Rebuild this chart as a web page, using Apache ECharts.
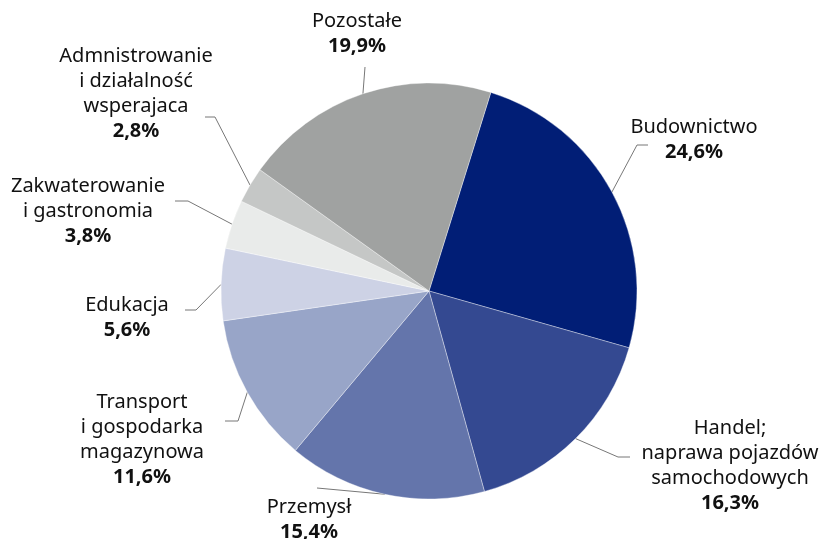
<!DOCTYPE html>
<html><head><meta charset="utf-8">
<script src="https://cdn.jsdelivr.net/npm/echarts@6/dist/echarts.min.js"></script>
<style>html,body{margin:0;padding:0;background:#fff}#c{width:821px;height:539px}</style>
</head><body><div id="c"></div>
<script>
const categories = ['Budownictwo','Handel;\nnaprawa pojazdów\nsamochodowych','Przemysł','Transport\ni gospodarka\nmagazynowa','Edukacja','Zakwaterowanie\ni gastronomia','Admnistrowanie\ni działalność\nwsperajaca','Pozostałe'];
const values = [24.6, 16.3, 15.4, 11.6, 5.6, 3.8, 2.8, 19.9];
const colors = ['#011e76','#344991','#6475ab','#98a5c8','#cdd2e5','#e9ebea','#c5c7c6','#a0a2a1'];

// label block centres and leader-line bend points (layout only)
const labelPos = [
  {x:694, y:140, bend:[[637,145],[648,145]]},
  {x:730, y:466, bend:[[618,457],[630,457]]},
  {x:309, y:520, bend:[[317,488]]},
  {x:142, y:440, bend:[[238,421],[225,421]]},
  {x:127, y:318, bend:[[196,310],[185,310]]},
  {x:88,  y:211, bend:[[188,201],[175,201]]},
  {x:136, y:94,  bend:[[215,117],[205,117]]},
  {x:357, y:34,  bend:[[365,67]]}
];

const fmt = v => v.toFixed(1).replace('.', ',') + '%';

const chart = echarts.init(document.getElementById('c'), null, {renderer:'canvas'});
chart.setOption({
  animation:false,
  series:[{
    type:'pie',
    center:[429,291],
    radius:208,
    startAngle:72.7,
    clockwise:true,
    data: categories.map((n,i)=>({name:n, value:values[i], itemStyle:{color:colors[i]}})),
    itemStyle:{borderColor:'rgba(255,255,255,0.6)', borderWidth:0.6},
    label:{
      show:true,
      position:'outside',
      formatter: p => p.name.split('\n').map(s=>'{n|'+s+'}').join('\n') + '\n{v|' + fmt(p.value) + '}',
      align:'center',
      rich:{
        n:{fontFamily:'Noto Sans', fontSize:20, color:'#111', lineHeight:25, align:'center'},
        v:{fontFamily:'Noto Sans', fontSize:20, fontWeight:'bold', color:'#111', lineHeight:25, align:'center'}
      }
    },
    labelLine:{show:true, lineStyle:{color:'#777', width:1}},
    labelLayout: function(params){
      const lp = labelPos[params.dataIndex];
      const start = params.labelLinePoints ? params.labelLinePoints[0] : null;
      const pts = start ? [start].concat(lp.bend) : null;
      const o = {x:lp.x, y:lp.y, align:'center', verticalAlign:'middle', hideOverlap:false, moveOverlap:null};
      if (pts) o.labelLinePoints = pts;
      return o;
    }
  }]
});
</script></body></html>
